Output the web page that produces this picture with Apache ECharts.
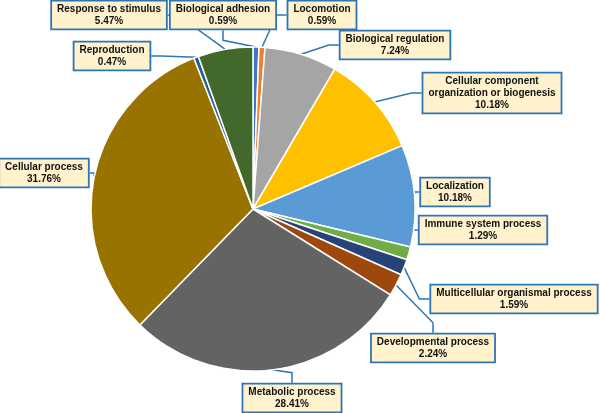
<!DOCTYPE html>
<html>
<head>
<meta charset="utf-8">
<script src="https://cdn.jsdelivr.net/npm/echarts@6/dist/echarts.min.js"></script>
<style>html,body{margin:0;padding:0;background:#fff}#c{width:600px;height:413px}</style>
</head>
<body>
<div id="c"></div>
<script>
var categories = [
  'Biological adhesion', 'Locomotion', 'Biological regulation',
  'Cellular component\norganization or biogenesis', 'Localization',
  'Immune system process', 'Multicellular organismal process',
  'Developmental process', 'Metabolic process', 'Cellular process',
  'Reproduction', 'Response to stimulus'
];
var percents = [0.59, 0.59, 7.24, 10.18, 10.18, 1.29, 1.59, 2.24, 28.41, 31.76, 0.47, 5.47];
var colors = ['#4472C4', '#ED7D31', '#A5A5A5', '#FFC000', '#5B9BD5', '#70AD47',
  '#264478', '#9E480E', '#636363', '#997300', '#255E91', '#43682B'];
// label box centres (layout only)
var labelCenters = [
  [223, 15], [322, 15], [395, 45], [492, 93], [455, 192], [483, 230],
  [514, 299], [433, 348], [292, 398], [44, 173], [112, 56], [109, 15]
];

var chart = echarts.init(document.getElementById('c'));
chart.setOption({
  animation: false,
  color: colors,
  series: [{
    type: 'pie',
    center: [253, 209],
    radius: 162,
    startAngle: 90,
    clockwise: true,
    avoidLabelOverlap: false,
    itemStyle: { borderColor: '#fff', borderWidth: 1.5 },
    label: {
      show: true,
      position: 'outside',
      formatter: function (p) { return p.name + '\n' + p.value.toFixed(2) + '%'; },
      fontFamily: 'Liberation Sans, Arial, sans-serif',
      fontWeight: 'bold',
      fontSize: 10,
      lineHeight: 12,
      color: '#111',
      align: 'center',
      backgroundColor: '#FFF2CC',
      borderColor: '#2E75B6',
      borderWidth: 1.8,
      padding: [2, 5, 1, 5]
    },
    labelLine: {
      show: true,
      length: 10,
      length2: 10,
      lineStyle: { color: '#2E75B6', width: 1.5 }
    },
    labelLayout: function (p) {
      var c = labelCenters[p.dataIndex];
      return { x: c[0], y: c[1], align: 'center', verticalAlign: 'middle' };
    },
    data: categories.map(function (n, i) { return { name: n, value: percents[i] }; })
  }]
});
</script>
</body>
</html>
